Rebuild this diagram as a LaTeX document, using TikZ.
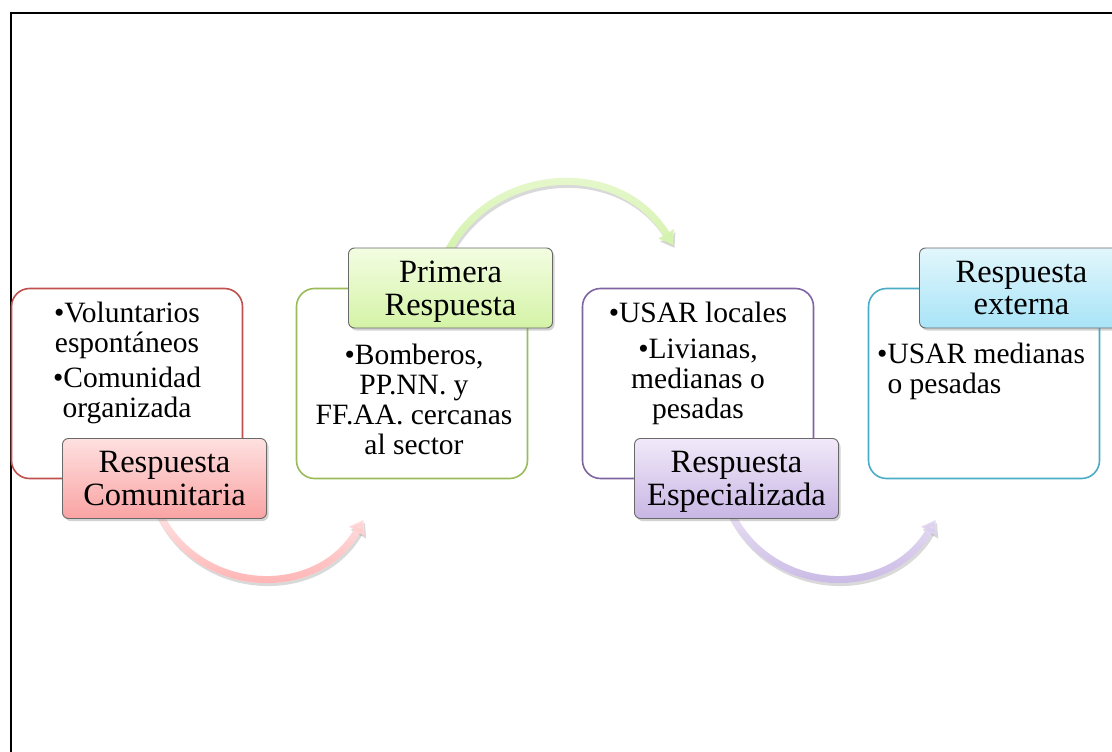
\documentclass[tikz,border=0pt]{standalone}
\usepackage{fontspec}
\setmainfont{Liberation Serif}
\usetikzlibrary{arrows.meta,shadows,fadings}
\definecolor{redB}{RGB}{192,80,77}
\definecolor{greenB}{RGB}{155,187,89}
\definecolor{purpleB}{RGB}{128,100,162}
\definecolor{aquaB}{RGB}{75,172,198}
\definecolor{redT}{RGB}{254,224,224}
\definecolor{redD}{RGB}{250,163,163}
\definecolor{greenT}{RGB}{243,253,226}
\definecolor{greenD}{RGB}{212,243,166}
\definecolor{purpleT}{RGB}{241,233,249}
\definecolor{purpleD}{RGB}{200,182,228}
\definecolor{aquaT}{RGB}{226,246,252}
\definecolor{aquaD}{RGB}{168,228,247}
\definecolor{redAL}{RGB}{255,230,230}
\definecolor{redAD}{RGB}{255,168,168}
\definecolor{greenAL}{RGB}{236,250,214}
\definecolor{greenAD}{RGB}{210,242,170}
\definecolor{purpleAL}{RGB}{234,226,245}
\definecolor{purpleAD}{RGB}{194,176,226}
\definecolor{lblline}{RGB}{105,105,105}
\tikzset{
  bigbox/.style={draw=#1, line width=1.6pt, rounded corners=18pt, minimum width=231pt, minimum height=190pt, fill=white, inner sep=0pt},
  lbl/.style 2 args={draw=lblline, line width=0.9pt, rounded corners=6pt, minimum width=204pt, minimum height=80pt, top color=#1, bottom color=#2, drop shadow={shadow xshift=2pt, shadow yshift=-2.5pt, opacity=0.35}, align=center, font=\fontsize{32.5}{32.5}\selectfont, text depth=0pt, inner sep=0pt},
  body/.style={align=center, font=\fontsize{29.5}{30}\selectfont, inner sep=0pt},
  flow/.style={line width=7pt, draw=#1, -{Triangle[width=17pt,length=13pt]}},
  flowshadow/.style={line width=7pt, draw=black, opacity=0.15, -{Triangle[width=17pt,length=13pt]}, transform canvas={shift={(1.5pt,-3pt)}}},
}
\begin{document}
\begin{tikzpicture}[x=1pt,y=1pt]
\useasboundingbox (0,0) rectangle (1112,-752);
\clip (0,0) rectangle (1112,-752);
\fill[white] (0,0) rectangle (1112,-752);
% frame
\draw[line width=2pt] (10.8,-752) -- (10.8,-12.7) -- (1112,-12.7);

% arrow coordinates
\coordinate (s1) at (157.9,-511);
\coordinate (e1) at (363.5,-520);
\coordinate (s2) at (444.6,-257.8);
\coordinate (e2) at (673,-245);
\coordinate (s3) at (729.9,-511);
\coordinate (e3) at (935.5,-520);

% arrows (behind)
\draw[flowshadow] (s1) .. controls +(39.7,-85.1) and +(-47,-81.3) .. (e1);
\draw[flow=redAL] (s1) .. controls +(39.7,-85.1) and +(-47,-81.3) .. (e1);
\draw[flow=redAD, path fading=north] (s1) .. controls +(39.7,-85.1) and +(-47,-81.3) .. (e1);

\draw[flowshadow] (s2) .. controls +(43.7,93.6) and +(-53.7,88.3) .. (e2);
\draw[flow=greenAL] (s2) .. controls +(43.7,93.6) and +(-53.7,88.3) .. (e2);
\draw[flow=greenAD, path fading=north] (s2) .. controls +(43.7,93.6) and +(-53.7,88.3) .. (e2);

\draw[flowshadow] (s3) .. controls +(39.7,-85.1) and +(-47,-81.3) .. (e3);
\draw[flow=purpleAL] (s3) .. controls +(39.7,-85.1) and +(-47,-81.3) .. (e3);
\draw[flow=purpleAD, path fading=north] (s3) .. controls +(39.7,-85.1) and +(-47,-81.3) .. (e3);

% big boxes
\node[bigbox=redB] (b1) at (127,-383.5) {};
\node[bigbox=greenB] (b2) at (412,-383.5) {};
\node[bigbox=purpleB] (b3) at (698,-383.5) {};
\node[bigbox=aquaB] (b4) at (984,-383.5) {};

% body texts
\node[body, anchor=north] (t1) at (127,-302) {•Voluntarios\\ espontáneos\\[5pt] •Comunidad\\ organizada};
\node[body, anchor=north] (t2) at (414,-344) {•Bomberos,\\ PP.NN. y\\ FF.AA. cercanas\\ al sector};
\node[body, anchor=north] (t3) at (698,-302) {•USAR locales\\[6pt] •Livianas,\\ medianas o\\ pesadas};
\node[body, align=left, anchor=north west] (t4) at (877,-343) {•USAR medianas\\ \hphantom{•}o pesadas};

% labels
\node[lbl={redT}{redD}] (l1) at (164.5,-478.5) {Respuesta\\ Comunitaria};
\node[lbl={greenT}{greenD}] (l2) at (450.5,-288) {Primera\\ Respuesta};
\node[lbl={purpleT}{purpleD}] (l3) at (736.5,-478.5) {Respuesta\\ Especializada};
\node[lbl={aquaT}{aquaD}] (l4) at (1021.5,-288) {Respuesta\\ externa};
\end{tikzpicture}
\end{document}
